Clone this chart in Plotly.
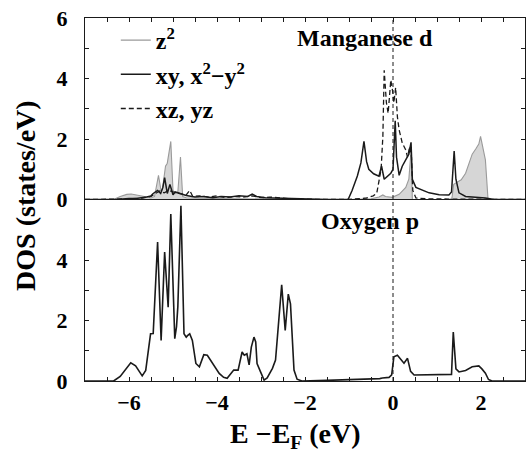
import plotly.graph_objects as go

# ---------------- data ----------------
FERMI_LEVEL = 0.0

# Oxygen p DOS (lower panel)
o_E = [-7.0, -6.35, -6.2, -6.05, -5.96, -5.85, -5.75, -5.70, -5.62, -5.55, -5.51, -5.45,
       -5.35, -5.27, -5.19, -5.11, -5.05, -4.96, -4.92, -4.89, -4.82, -4.75, -4.70, -4.67,
       -4.62, -4.56, -4.48, -4.40, -4.30, -4.22, -4.10, -3.95, -3.85, -3.77, -3.62, -3.52,
       -3.43, -3.38, -3.32, -3.27, -3.22, -3.16, -3.12, -3.09, -3.01, -2.93, -2.86, -2.74,
       -2.67, -2.61, -2.53, -2.45, -2.38, -2.33, -2.29, -2.25, -2.18, -2.07, -1.5, -1.0,
       -0.6, -0.3, -0.24, -0.15, -0.09, -0.03, 0.02, 0.1, 0.18, 0.25, 0.33, 0.40, 0.48,
       0.75, 1.0, 1.27, 1.33, 1.37, 1.43, 1.5, 1.65, 1.8, 1.95, 2.02, 2.1, 2.17, 2.25, 3.0]
o_dos = [0.0, 0.0, 0.15, 0.45, 0.6, 0.5, 0.25, 0.17, 0.35, 1.2, 1.56, 1.57,
         4.59, 1.34, 4.26, 2.44, 5.52, 1.4, 1.8, 2.46, 5.79, 1.56, 1.45, 1.5,
         1.56, 1.34, 0.58, 0.47, 0.87, 0.85, 0.57, 0.25, 0.12, 0.09, 0.36, 0.36,
         0.96, 0.85, 0.9, 0.53, 1.12, 1.45, 1.29, 0.58, 0.3, 0.03, 0.1, 0.42,
         0.69, 1.67, 3.18, 1.67, 2.87, 2.55, 1.45, 0.36, 0.06, 0.0, 0.02, 0.04,
         0.05, 0.08, 0.1, 0.12, 0.12, 0.2, 0.8, 0.85, 0.7, 0.59, 0.75, 0.32, 0.2,
         0.2, 0.2, 0.2, 0.22, 1.62, 0.4, 0.3, 0.35, 0.47, 0.5, 0.4, 0.26, 0.05, 0.0, 0.0]

# Manganese d: z^2 (grey filled)
z2_E = [-7.0, -6.35, -6.2, -6.05, -5.95, -5.8, -5.65, -5.5, -5.42, -5.33, -5.27, -5.24,
        -5.17, -5.13, -5.05, -5.0, -4.95, -4.89, -4.83, -4.78, -4.7, -4.4, -4.0, -3.5,
        -3.0, -2.5, -2.0, -1.0, -0.5, -0.32, -0.23, -0.17, -0.02, 0.14, 0.29, 0.36,
        0.41, 0.44, 0.5, 1.3, 1.34, 1.38, 1.43, 1.55, 1.65, 1.73, 1.8, 1.88, 1.95,
        1.99, 2.04, 2.1, 2.16, 2.2, 3.0]
z2_dos = [0.0, 0.0, 0.1, 0.17, 0.18, 0.15, 0.1, 0.05, 0.1, 0.8, 0.28, 0.35,
          1.1, 1.2, 1.92, 0.3, 0.2, 0.25, 1.4, 0.1, 0.06, 0.04, 0.03, 0.02,
          0.02, 0.01, 0.0, 0.0, 0.02, 0.08, 0.15, 0.1, 0.07, 0.17, 0.4, 0.67,
          1.6, 0.0, 0.0, 0.0, 0.05, 0.5, 0.55, 0.65, 0.87, 1.25, 1.5, 1.67, 1.83,
          2.09, 1.75, 1.31, 0.0, 0.0, 0.0]

# Manganese d: xy, x^2-y^2 (solid)
xy_E = [-7.0, -6.3, -6.0, -5.8, -5.6, -5.5, -5.45, -5.4, -5.35, -5.28, -5.23, -5.19,
        -5.13, -5.07, -5.0, -4.95, -4.83, -4.7, -4.5, -4.3, -4.1, -3.9, -3.7, -3.5,
        -3.3, -3.2, -3.1, -2.9, -2.7, -2.5, -2.3, -2.0, -1.5, -1.02, -0.93, -0.81,
        -0.73, -0.66, -0.60, -0.55, -0.44, -0.32, -0.26, -0.2, -0.13, -0.05, 0.0,
        0.05, 0.08, 0.14, 0.21, 0.29, 0.36, 0.41, 0.44, 0.52, 0.67, 0.82, 1.05,
        1.27, 1.33, 1.39, 1.43, 1.5, 1.65, 2.1, 2.3, 3.0]
xy_dos = [0.0, 0.0, 0.03, 0.04, 0.08, 0.12, 0.2, 0.25, 0.3, 0.2, 0.4, 0.72,
          0.2, 0.5, 0.16, 0.25, 0.2, 0.13, 0.08, 0.1, 0.06, 0.1, 0.08, 0.12,
          0.1, 0.18, 0.1, 0.06, 0.05, 0.04, 0.02, 0.0, 0.0, 0.0, 0.3, 0.78,
          1.21, 1.92, 1.25, 1.0, 0.85, 0.77, 1.1, 0.67, 0.77, 0.87, 1.0,
          2.6, 1.4, 0.8, 1.1, 1.3, 1.5, 1.89, 0.67, 0.4, 0.3, 0.22, 0.16,
          0.15, 0.25, 1.6, 0.67, 0.22, 0.1, 0.05, 0.0, 0.0]

# Manganese d: xz, yz (dashed)
xz_E = [-7.0, -6.3, -6.0, -5.7, -5.5, -5.4, -5.3, -5.2, -5.1, -5.0, -4.9, -4.8,
        -4.7, -4.62, -4.55, -4.4, -4.2, -4.0, -3.8, -3.6, -3.4, -3.2, -3.0, -2.8,
        -2.6, -2.3, -1.5, -1.0, -0.6, -0.45, -0.37, -0.3, -0.27, -0.23, -0.2,
        -0.15, -0.11, -0.08, -0.05, -0.01, 0.02, 0.06, 0.1, 0.14, 0.21, 0.29,
        0.33, 0.38, 0.42, 0.45, 0.52, 0.8, 1.5, 2.2, 3.0]
xz_dos = [0.0, 0.0, 0.02, 0.05, 0.1, 0.2, 0.28, 0.22, 0.3, 0.25, 0.22, 0.2,
          0.15, 0.3, 0.1, 0.12, 0.08, 0.12, 0.06, 0.1, 0.08, 0.12, 0.06, 0.08,
          0.05, 0.02, 0.0, 0.0, 0.05, 0.12, 0.2, 0.77, 1.0, 2.1, 4.27,
          3.2, 2.85, 3.4, 3.95, 3.6, 3.2, 3.7, 2.73, 2.3, 1.87, 1.64,
          1.4, 1.75, 1.4, 0.3, 0.05, 0.02, 0.02, 0.0, 0.0]

x_tick_vals = [-6, -4, -2, 0, 2]
top_y_ticks = [0, 2, 4, 6]
bottom_y_ticks = [0, 2, 4]

# ---------------- figure ----------------
FONT = '"Liberation Serif", "Times New Roman", Times, serif'
INK = "#1a1a1a"

fig = go.Figure()

fig.add_trace(go.Scatter(x=z2_E, y=z2_dos, xaxis="x", yaxis="y", mode="lines",
                         fill="tozeroy", fillcolor="#d6d6d6",
                         line=dict(color="rgba(0,0,0,0)", width=0),
                         showlegend=False, hoverinfo="skip"))
fig.add_trace(go.Scatter(x=z2_E, y=z2_dos, xaxis="x", yaxis="y", mode="lines",
                         name="z<sup>2</sup>", line=dict(color="#9a9a9a", width=1.1)))
fig.add_trace(go.Scatter(x=xy_E, y=xy_dos, xaxis="x", yaxis="y", mode="lines",
                         name="xy, x<sup>2</sup>\u2212y<sup>2</sup>",
                         line=dict(color=INK, width=1.5)))
fig.add_trace(go.Scatter(x=xz_E, y=xz_dos, xaxis="x", yaxis="y", mode="lines",
                         name="xz, yz", line=dict(color=INK, width=1.3, dash="5px,3px")))
fig.add_trace(go.Scatter(x=o_E, y=o_dos, xaxis="x2", yaxis="y2", mode="lines",
                         showlegend=False, line=dict(color=INK, width=1.6)))

axis_common = dict(showline=True, linecolor=INK, linewidth=1, showgrid=False,
                   zeroline=False, ticks="inside", ticklen=4, tickwidth=1,
                   tickcolor=INK)
tickfont = dict(size=22, family=FONT, weight="bold", color="black")

fig.update_layout(
    width=532, height=455,
    margin=dict(l=85, r=6, t=14, b=74),
    paper_bgcolor="white", plot_bgcolor="white",
    font=dict(family=FONT, color="black", size=21, weight="bold"),
    xaxis=dict(axis_common, domain=[0, 1], anchor="y", side="top", range=[-7, 3],
               tickvals=x_tick_vals, showticklabels=False,
               minor=dict(dtick=0.5, tick0=0, ticks="inside", ticklen=4, tickcolor=INK)),
    xaxis2=dict(axis_common, domain=[0, 1], anchor="y2", range=[-7, 3], mirror=True,
                tickvals=x_tick_vals, ticktext=[str(v).replace("-", "\u2212") for v in x_tick_vals],
                tickfont=tickfont, ticklabelstandoff=2,
                minor=dict(dtick=0.5, tick0=0, ticks="inside", ticklen=4, tickcolor=INK)),
    yaxis=dict(axis_common, domain=[0.5, 1], anchor="x", range=[0, 6], mirror="ticks",
               tickvals=top_y_ticks, tickfont=tickfont, ticklabelstandoff=12,
               minor=dict(dtick=1, tick0=0, ticks="inside", ticklen=4, tickcolor=INK)),
    yaxis2=dict(axis_common, domain=[0, 0.5], anchor="x2", range=[0, 6], mirror="ticks",
                tickvals=bottom_y_ticks, tickfont=tickfont, ticklabelstandoff=12,
                minor=dict(tickvals=[1, 3, 5], ticks="inside", ticklen=4, tickcolor=INK)),
    legend=dict(x=0.07, y=1.0, xanchor="left", yanchor="top",
                bgcolor="rgba(0,0,0,0)", borderwidth=0, itemwidth=30,
                font=dict(family=FONT, size=24, weight="bold", color="black"),
                tracegroupgap=0),
    showlegend=True,
)

# Fermi level
fig.add_shape(type="line", xref="x", yref="paper", x0=FERMI_LEVEL, x1=FERMI_LEVEL,
              y0=0, y1=1, line=dict(color=INK, width=1, dash="4px,3px"), layer="above")

fig.add_annotation(text="Manganese d", xref="x", yref="y", x=-0.63, y=5.35,
                   showarrow=False, font=dict(family=FONT, size=24, weight="bold", color="black"))
fig.add_annotation(text="Oxygen p", xref="x2", yref="y2", x=-0.52, y=5.3,
                   showarrow=False, font=dict(family=FONT, size=24, weight="bold", color="black"))
fig.add_annotation(text="DOS (states/eV)", xref="paper", yref="paper", x=-0.134, y=0.51,
                   xanchor="center", yanchor="middle", textangle=-90, showarrow=False,
                   font=dict(family=FONT, size=28, weight="bold", color="black"))
fig.add_annotation(text="E \u2212E<sub>F</sub> (eV)", xref="paper", yref="paper",
                   x=0.478, y=-0.15, xanchor="center", yanchor="middle", showarrow=False,
                   font=dict(family=FONT, size=28, weight="bold", color="black"))

fig.write_html("out.html")
